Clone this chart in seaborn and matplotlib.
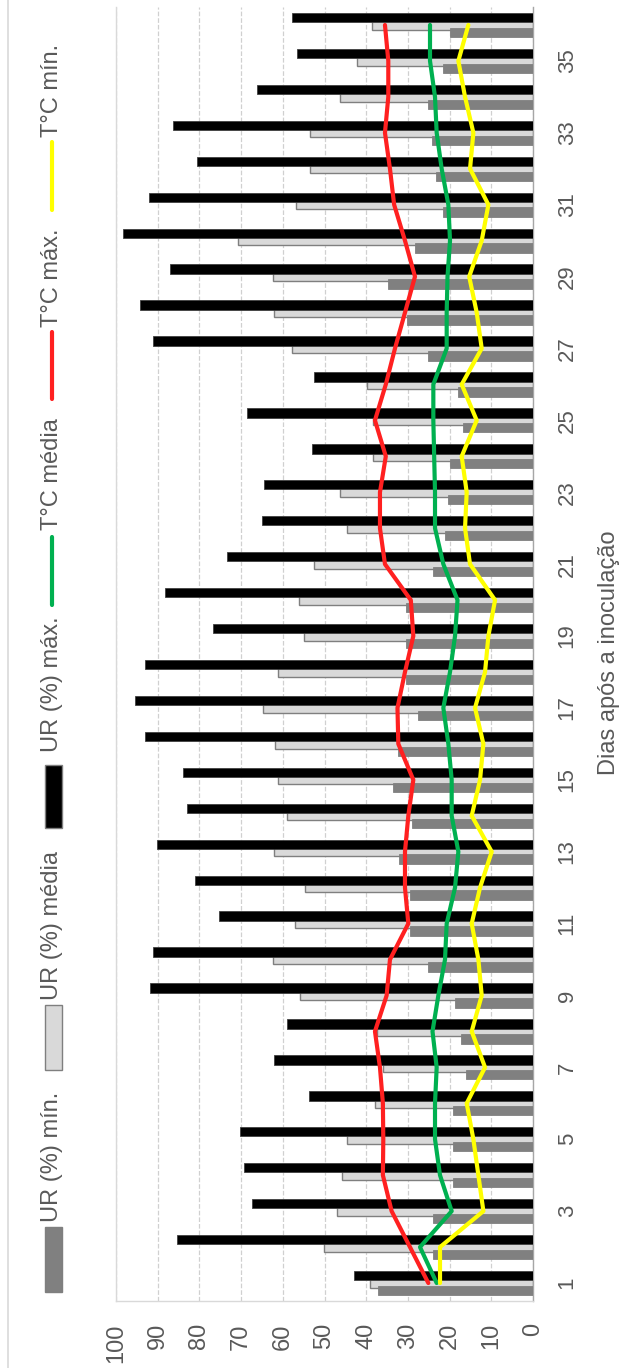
import numpy as np
import pandas as pd
import matplotlib
matplotlib.use("Agg")
import matplotlib.pyplot as plt
from matplotlib.patches import Rectangle
from matplotlib.lines import Line2D
import seaborn as sns

# days after inoculation (1..36)
dias = [str(d) for d in range(1, 37)]

# relative humidity (%)
ur_min = [37.1, 23.9, 23.9, 19.1, 19.1, 19.1, 16.1, 17.3, 18.7, 25.1, 29.5, 29.5,
          32.1, 29.1, 33.5, 32.3, 27.5, 30.5, 30.5, 30.5, 23.9, 21.1, 20.3, 19.9,
          16.7, 17.9, 25.1, 30.3, 34.7, 28.3, 21.5, 23.3, 24.3, 25.1, 21.5, 19.9]
ur_media = [39.1, 50.1, 47.1, 45.9, 44.7, 37.9, 36.0, 37.5, 55.9, 62.4, 57.1, 54.7,
            62.0, 58.9, 61.2, 61.9, 64.8, 61.2, 54.9, 56.0, 52.5, 44.7, 46.4, 38.4,
            38.3, 39.9, 57.7, 62.0, 62.4, 70.8, 56.8, 53.5, 53.5, 46.4, 42.1, 38.7]
ur_max = [42.9, 85.3, 67.5, 69.2, 70.3, 53.6, 62.0, 59.1, 91.8, 91.2, 75.2, 81.1,
          90.1, 82.9, 84.0, 93.0, 95.4, 93.0, 76.8, 88.2, 73.3, 65.1, 64.4, 53.1,
          68.5, 52.5, 91.2, 94.2, 87.0, 98.4, 92.2, 80.5, 86.4, 66.3, 56.7, 57.9]

# temperature (°C)
t_max = [25.1, 29.5, 33.9, 36.0, 35.9, 36.0, 36.7, 37.9, 35.1, 34.3, 29.9, 30.7,
         30.7, 29.9, 28.7, 32.3, 32.5, 30.7, 28.7, 29.3, 35.5, 36.7, 36.7, 35.3,
         37.9, 35.3, 33.1, 30.7, 28.3, 30.7, 33.3, 34.3, 35.5, 34.7, 34.7, 35.5]
t_media = [23.1, 27.1, 19.5, 22.3, 23.5, 23.5, 23.1, 24.1, 22.7, 21.1, 20.7, 18.7,
           17.9, 19.5, 19.5, 20.3, 21.5, 19.9, 18.7, 18.1, 21.5, 23.5, 23.5, 23.7,
           23.9, 23.9, 20.7, 20.7, 20.5, 19.9, 20.3, 21.9, 23.1, 23.5, 24.7, 24.7]
t_min = [22.3, 22.3, 11.9, 13.1, 14.3, 15.9, 11.5, 14.7, 12.3, 13.1, 14.7, 12.7,
         9.9, 14.7, 12.7, 11.9, 13.9, 11.5, 10.7, 9.1, 15.1, 16.3, 15.9, 17.1,
         13.5, 17.1, 12.3, 13.5, 15.3, 12.3, 10.7, 15.1, 14.3, 16.3, 17.9, 15.5]

series = ["UR (%) mín.", "UR (%) média", "UR (%) máx."]
bar_colors = ["#808080", "#d9d9d9", "#000000"]
line_series = ["T°C média", "T°C máx.", "T°C mín."]
line_colors = ["#00b050", "#ff2020", "#ffff00"]
value_ticks = list(range(0, 101, 10))

sns.set_style("white")
plt.rcParams["font.family"] = ["Liberation Sans", "DejaVu Sans"]
TXT = "#595959"
W, H = 628, 1368

df = pd.DataFrame({
    "dia": dias * 3,
    "serie": np.repeat(series, len(dias)),
    "valor": ur_min + ur_media + ur_max,
})

fig = plt.figure(figsize=(W / 100, H / 100), dpi=100)
ax = fig.add_axes([116 / W, 67 / H, 417 / W, 1294 / H])

sns.barplot(data=df, x="valor", y="dia", hue="serie", hue_order=series, order=dias,
            palette=bar_colors, orient="h", width=0.62, dodge=True, saturation=1,
            errorbar=None, legend=False, ax=ax)

# Excel-like overlap: thicker bars, middle series sits underneath
for i, cont in enumerate(ax.containers):
    for bar in cont:
        cy = bar.get_y() + bar.get_height() / 2
        bar.set_y(cy - 0.13)
        bar.set_height(0.26)
        if i == 1:
            bar.set_zorder(2)
            bar.set_edgecolor("#7f7f7f")
            bar.set_linewidth(1)
        else:
            bar.set_zorder(3)
            bar.set_edgecolor("#404040" if i == 2 else "#808080")
            bar.set_linewidth(0.6)

pos = np.arange(len(dias))
for vals, col in zip([t_media, t_max, t_min], line_colors):
    sns.lineplot(x=vals, y=pos, orient="y", sort=False, estimator=None,
                 color=col, lw=3, ax=ax, zorder=5)

ax.set_xlim(100, 0)
ax.set_ylim(-0.5, len(dias) - 0.5)
ax.set_xticks(value_ticks)
ax.set_xticklabels([str(v) for v in value_ticks], rotation=90)
ax.tick_params(axis="x", length=0, pad=16, labelsize=17, labelcolor=TXT)
ax.set_xlabel("")

ax.yaxis.tick_right()
ax.set_yticks(pos[::2])
ax.set_yticklabels(dias[::2], rotation=90, va="center")
ax.tick_params(axis="y", length=0, pad=17, labelsize=16, labelcolor=TXT)

ax.yaxis.set_label_position("right")
ax.set_ylabel("Dias após a inoculação", fontsize=17, color=TXT)
ax.yaxis.set_label_coords((609 - 116) / 417, (1301 - 653) / 1294)
ax.yaxis.label.set_va("center")

ax.grid(axis="x", color="#d0d0d0", ls="--", lw=0.9)
ax.grid(axis="y", visible=False)
ax.set_axisbelow(True)
ax.spines["top"].set_visible(False)
ax.spines["left"].set_color("#d9d9d9")
ax.spines["bottom"].set_color("#d9d9d9")
ax.spines["right"].set_color("#a6a6a6")
for s in ["left", "bottom", "right"]:
    ax.spines[s].set_linewidth(1)


def fy(y):
    return 1 - y / H


# legend, rotated like the rest of the chart
LX = 52 / W
patch_spans = [(1227, 1292), (1005, 1070), (765, 828)]
patch_text_start = [1222, 1000, 752]
for lab, col, (y0, y1), ty in zip(series, bar_colors, patch_spans, patch_text_start):
    fig.add_artist(Rectangle((45 / W, fy(y1)), 17 / W, (y1 - y0) / H,
                             transform=fig.transFigure, facecolor=col,
                             edgecolor="#7f7f7f", lw=1))
    fig.text(LX, fy(ty), lab, rotation=90, ha="center", va="bottom",
             fontsize=17, color=TXT)

line_spans = [(537, 605), (332, 399), (142, 210)]
line_text_start = [530, 327, 137]
for lab, col, (y0, y1), ty in zip(line_series, line_colors, line_spans, line_text_start):
    fig.add_artist(Line2D([LX, LX], [fy(y1), fy(y0)], transform=fig.transFigure,
                          color=col, lw=3))
    fig.text(LX, fy(ty), lab, rotation=90, ha="center", va="bottom",
             fontsize=17, color=TXT)

# chart area border on the left
fig.add_artist(Line2D([7.5 / W, 7.5 / W], [0, 1], transform=fig.transFigure,
                      color="#d9d9d9", lw=1.2))

fig.savefig("out.png", dpi=100)
